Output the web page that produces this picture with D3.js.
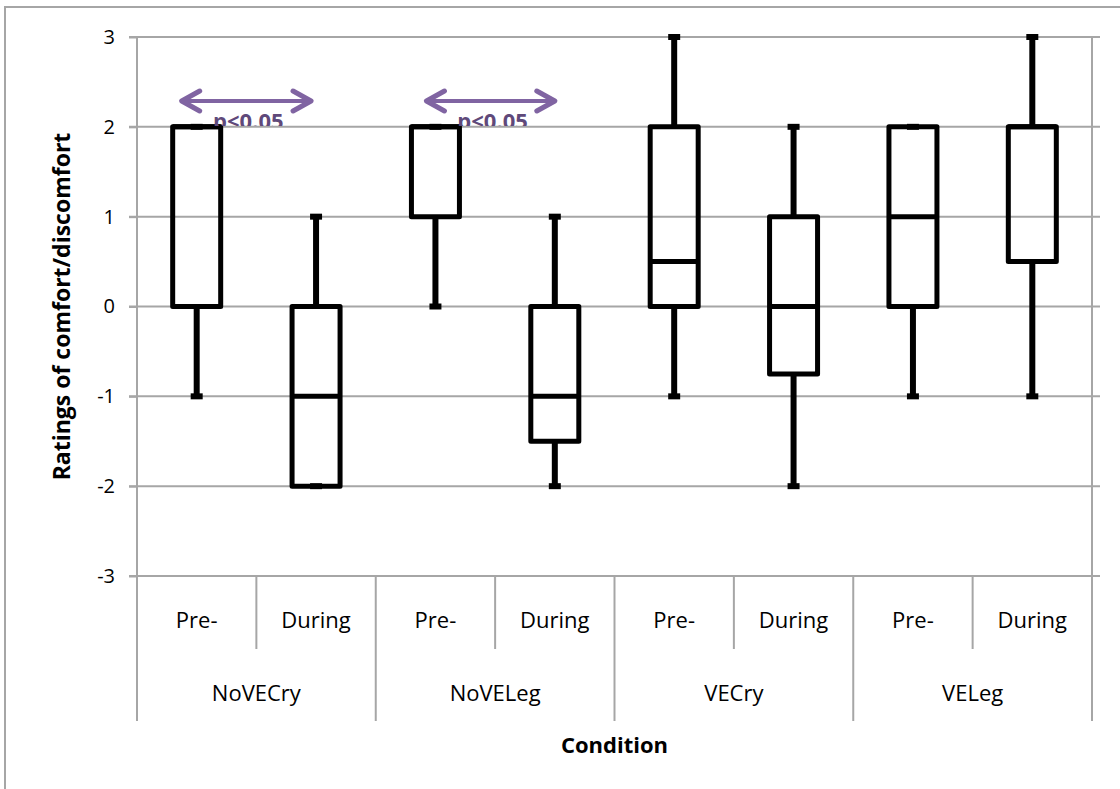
<!DOCTYPE html>
<meta charset="utf-8">
<title>Comfort ratings</title>
<style>
body { margin: 0; background: #fff; }
text { font-family: "Open Sans", "Noto Sans", sans-serif; fill: #000; }
.grid line { stroke: #a6a6a6; stroke-width: 2px; }
.box { fill: none; stroke: #000; stroke-width: 5px; stroke-linejoin: round; }
.whisk { stroke: #000; stroke-width: 6px; }
</style>
<body>
<script src="https://cdn.jsdelivr.net/npm/d3@7"></script>
<script>

var groups = ["NoVECry", "NoVELeg", "VECry", "VELeg"];
var phases = ["Pre-", "During"];
var mins    = [-1, -2, 0, -2, -1, -2, -1, -1];
var q1s     = [ 0, -2, 1, -1.5, 0, -0.75, 0, 0.5];
var medians = [ 2, -1, 2, -1, 0.5, 0, 1, 2];
var q3s     = [ 2,  0, 2,  0, 2, 1, 2, 2];
var maxs    = [ 2,  1, 2,  1, 3, 2, 2, 3];
var yTicks = [-3, -2, -1, 0, 1, 2, 3];
// significance arrows: from slot to slot
var sigs = [{ from: 0, to: 1, label: "p<0.05" }, { from: 2, to: 3, label: "p<0.05" }];

var W = 1120, H = 789;
var pLeft = 137, pRight = 1092, pTop = 37, pBottom = 576;

var keys = [];
groups.forEach(function(g) { phases.forEach(function(p) { keys.push(g + "|" + p); }); });

var svg = d3.select("body").append("svg")
    .attr("width", W)
    .attr("height", H);

// outer frame
svg.append("rect")
    .attr("x", 5).attr("y", 7)
    .attr("width", W + 10).attr("height", H + 10)
    .attr("fill", "none")
    .attr("stroke", "#a6a6a6")
    .attr("stroke-width", 2);

var x = d3.scaleBand().domain(keys).range([pLeft, pRight]);
var y = d3.scaleLinear().domain([-3, 3]).range([pBottom, pTop]);
var bw = 48;

// gridlines
svg.append("g").attr("class", "grid")
  .selectAll("line")
  .data(yTicks)
  .enter().append("line")
    .attr("x1", pLeft - 8).attr("x2", pRight + 8)
    .attr("y1", function(d) { return y(d); })
    .attr("y2", function(d) { return y(d); });

// y axis
var yAxis = svg.append("g")
    .attr("transform", "translate(" + pLeft + ",0)")
    .call(d3.axisLeft(y).tickValues(yTicks).tickSize(8).tickPadding(14)
      .tickFormat(function(d) { return String(d); }));
yAxis.select(".domain").remove();
yAxis.selectAll("line").attr("stroke", "#a6a6a6").attr("stroke-width", 2);
yAxis.selectAll("text").style("font-size", "20px").style("font-family", "'Open Sans', sans-serif");

svg.append("line")
    .attr("x1", pLeft).attr("x2", pLeft)
    .attr("y1", pTop).attr("y2", 721)
    .attr("stroke", "#a6a6a6").attr("stroke-width", 2);

// category separators
svg.append("g").attr("class", "grid")
  .selectAll("line")
  .data(keys)
  .enter().append("line")
    .attr("x1", function(d) { return x(d) + x.bandwidth(); })
    .attr("x2", function(d) { return x(d) + x.bandwidth(); })
    .attr("y1", function(d, i) { return i === keys.length - 1 ? pTop : pBottom; })
    .attr("y2", function(d, i) { return i % 2 ? 721 : 649; });

// sub labels
svg.selectAll(".sub")
  .data(keys)
  .enter().append("text")
    .attr("class", "sub")
    .attr("x", function(d) { return x(d) + x.bandwidth() / 2; })
    .attr("y", 628)
    .attr("text-anchor", "middle")
    .style("font-size", "22px")
    .text(function(d) { return d.split("|")[1]; });

svg.selectAll(".grp")
  .data(groups)
  .enter().append("text")
    .attr("class", "grp")
    .attr("x", function(d) { return x(d + "|Pre-") + x.bandwidth(); })
    .attr("y", 701)
    .attr("text-anchor", "middle")
    .style("font-size", "22px")
    .text(function(d) { return d; });

// axis titles
svg.append("text")
    .attr("transform", "translate(62," + ((pTop + pBottom) / 2) + ") rotate(-90)")
    .attr("text-anchor", "middle")
    .attr("dy", "0.35em")
    .style("font-size", "23px")
    .style("font-weight", "bold")
    .text("Ratings of comfort/discomfort");

svg.append("text")
    .attr("x", (pLeft + pRight) / 2 + 0)
    .attr("y", 753)
    .attr("text-anchor", "middle")
    .style("font-size", "22px")
    .style("font-weight", "bold")
    .text("Condition");

// boxes
var bx = svg.append("g");
keys.forEach(function(k, i) {
  var cx = x(k) + x.bandwidth() / 2;
  bx.append("line").attr("class", "whisk")
    .attr("x1", cx).attr("x2", cx)
    .attr("y1", y(maxs[i])).attr("y2", y(q3s[i]));
  bx.append("line").attr("class", "whisk")
    .attr("x1", cx).attr("x2", cx)
    .attr("y1", y(q1s[i])).attr("y2", y(mins[i]));
  [maxs[i], mins[i]].forEach(function(v) {
    bx.append("line").attr("class", "whisk")
      .attr("x1", cx - 6).attr("x2", cx + 6)
      .attr("y1", y(v)).attr("y2", y(v));
  });
  bx.append("rect").attr("class", "box")
    .attr("x", cx - bw / 2)
    .attr("y", y(q3s[i]))
    .attr("width", bw)
    .attr("height", y(q1s[i]) - y(q3s[i]));
  bx.append("line").attr("class", "box")
    .attr("x1", cx - bw / 2).attr("x2", cx + bw / 2)
    .attr("y1", y(medians[i])).attr("y2", y(medians[i]));
});

// significance annotations (hand-placed like the original drawing)
svg.append("clipPath").attr("id", "clipTxt")
  .append("rect").attr("x", 0).attr("y", 0).attr("width", W).attr("height", 126);

var purple = "#8064a2";
var arrowNudge = [[-17, -3], [-11, 2]];
sigs.forEach(function(s, j) {
  var x1 = x(keys[s.from]) + x.bandwidth() / 2 + arrowNudge[j][0];
  var x2 = x(keys[s.to]) + x.bandwidth() / 2 + arrowNudge[j][1];
  var ay = 101;
  var g = svg.append("g");
  g.append("line")
    .attr("x1", x1 + 2).attr("x2", x2 - 2)
    .attr("y1", ay).attr("y2", ay)
    .attr("stroke", purple).attr("stroke-width", 4);
  g.append("path")
    .attr("d", "M" + (x1 + 20) + "," + (ay - 10) + "L" + (x1 + 2) + "," + ay + "L" + (x1 + 20) + "," + (ay + 10))
    .attr("fill", "none").attr("stroke", purple).attr("stroke-width", 5)
    .attr("stroke-linecap", "round").attr("stroke-linejoin", "round");
  g.append("path")
    .attr("d", "M" + (x2 - 20) + "," + (ay - 10) + "L" + (x2 - 2) + "," + ay + "L" + (x2 - 20) + "," + (ay + 10))
    .attr("fill", "none").attr("stroke", purple).attr("stroke-width", 5)
    .attr("stroke-linecap", "round").attr("stroke-linejoin", "round");
  g.append("text")
    .attr("clip-path", "url(#clipTxt)")
    .attr("x", (x1 + x2) / 2 + 2)
    .attr("y", 129)
    .attr("text-anchor", "middle")
    .style("font-size", "22px")
    .style("font-weight", "bold")
    .style("fill", "#5f497a")
    .text(s.label);
});

</script>
